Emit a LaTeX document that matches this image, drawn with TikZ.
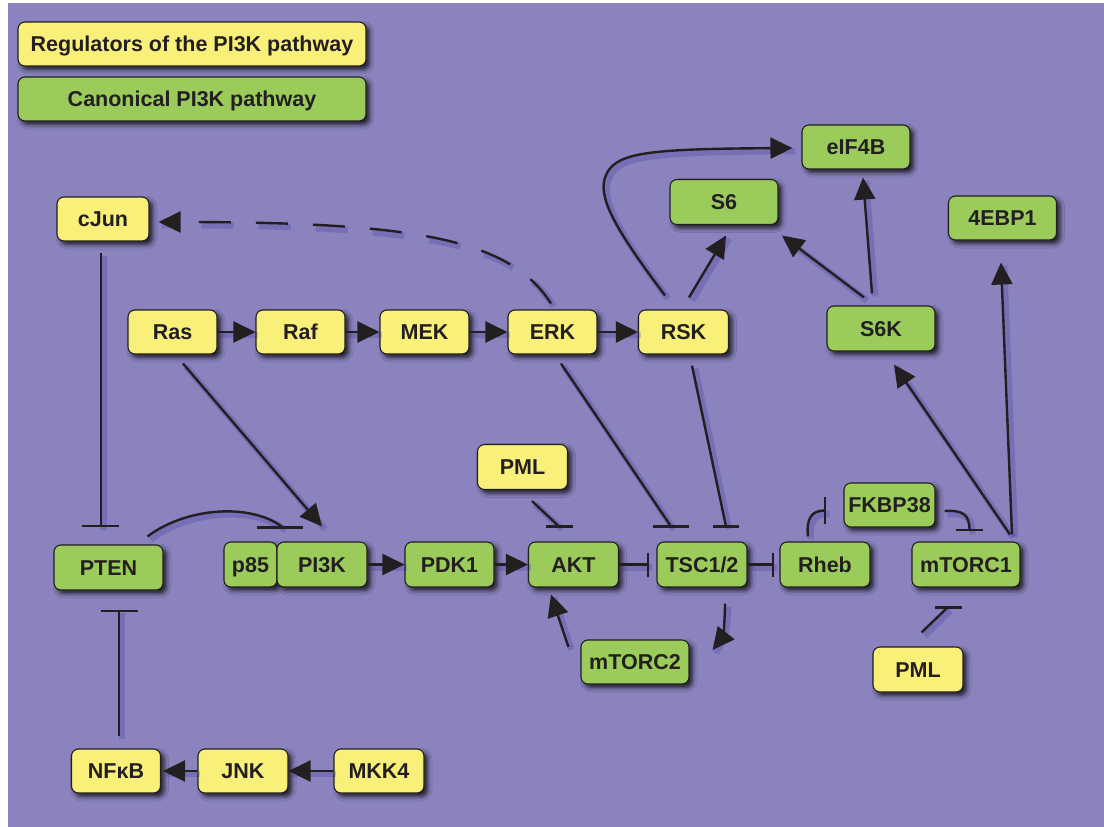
\documentclass[tikz,border=0pt]{standalone}
\usepackage{fontspec}
\setmainfont{Liberation Sans}
\usetikzlibrary{arrows.meta,calc,shadows.blur}
\definecolor{bg}{RGB}{138,131,190}
\definecolor{yel}{RGB}{249,240,122}
\definecolor{grn}{RGB}{155,204,91}
\definecolor{txt}{RGB}{35,31,32}
\definecolor{shd}{RGB}{50,40,150}
\tikzset{
  box/.style={draw=txt, line width=1.1pt, rounded corners=7pt, minimum height=44pt,
    inner sep=0pt, text=txt, font=\bfseries\fontsize{21.5}{24}\selectfont,
    text height=15pt, text depth=0pt,
    blur shadow={shadow xshift=3.5pt, shadow yshift=-3.5pt, shadow blur radius=4.5pt, shadow opacity=80}},
  ybox/.style={box, fill=yel},
  gbox/.style={box, fill=grn},
  lshadow/.style={preaction={draw=shd, draw opacity=0.22, line width=6.5pt, arrows=-,
    transform canvas={shift={(3pt,-3pt)}}}},
  dshadow/.style={preaction={draw=shd, draw opacity=0.22, line width=6.5pt, arrows=-,
    dash pattern=on 32pt off 25pt, transform canvas={shift={(3pt,-3pt)}}}},
  ln/.style={line width=2.4pt, draw=txt, line cap=butt},
  act/.style={ln, lshadow, -{Triangle[length=22pt,width=21pt]}},
  dact/.style={ln, dshadow, dash pattern=on 32pt off 25pt, -{Triangle[length=22pt,width=21pt]}},
  inh/.style={ln, lshadow, -{Bar[width=#1]}},
  inh/.default=27pt,
  plain/.style={ln, lshadow},
}
\newcommand\inhbar[2]{\draw[ln] ($(#1)+(-#2,0)$) -- ($(#1)+(#2,0)$);}
\begin{document}
\begin{tikzpicture}[x=1pt,y=-1pt]
\useasboundingbox (0,0) rectangle (1104,827);
\fill[white] (0,0) rectangle (1104,827);
\fill[bg] (8,3) rectangle (1104,827);

% legend
\node[ybox, minimum width=348pt] (leg1) at (192,44) {Regulators of the PI3K pathway};
\node[gbox, minimum width=348pt] (leg2) at (192,99) {Canonical PI3K pathway};

% nodes
\node[ybox, minimum width=92pt] (cJun) at (103,219) {cJun};
\node[ybox, minimum width=89pt] (Ras) at (172.5,332) {Ras};
\node[ybox, minimum width=89pt] (Raf) at (300.5,332) {Raf};
\node[ybox, minimum width=89pt] (MEK) at (424.5,332) {MEK};
\node[ybox, minimum width=89pt] (ERK) at (552.5,332) {ERK};
\node[ybox, minimum width=90pt] (RSK) at (683.5,332) {RSK};
\node[gbox, minimum width=108pt] (eIF4B) at (856,147) {eIF4B};
\node[gbox, minimum width=108pt, minimum height=45pt] (S6) at (724,202) {S6};
\node[gbox, minimum width=108pt] (EBP) at (1002.5,218) {4EBP1};
\node[gbox, minimum width=108pt, minimum height=45pt] (S6K) at (881,328.5) {S6K};
\node[gbox, minimum width=109pt, minimum height=45pt] (PTEN) at (108.5,567.5) {PTEN};
\node[gbox, minimum width=53pt, minimum height=45pt] (p85) at (250.5,564.5) {p85};
\node[gbox, minimum width=90pt, minimum height=45pt] (PI3K) at (322,564.5) {PI3K};
\node[gbox, minimum width=89pt, minimum height=45pt] (PDK1) at (449.5,564.5) {PDK1};
\node[gbox, minimum width=90pt, minimum height=45pt] (AKT) at (573.5,564.5) {AKT};
\node[gbox, minimum width=90pt, minimum height=45pt] (TSC) at (702,564.5) {TSC1/2};
\node[gbox, minimum width=90pt, minimum height=45pt] (Rheb) at (825,564.5) {Rheb};
\node[gbox, minimum width=108pt, minimum height=45pt] (mTORC1) at (966,564.5) {mTORC1};
\node[gbox, minimum width=91pt] (FKBP) at (889.5,505) {FKBP38};
\node[gbox, minimum width=108pt] (mTORC2) at (635,662) {mTORC2};
\node[ybox, minimum width=90pt, minimum height=45pt] (PMLa) at (522.5,467) {PML};
\node[ybox, minimum width=90pt, minimum height=45pt] (PMLb) at (918,669.5) {PML};
\node[ybox, minimum width=89pt] (NFkB) at (116,771) {NFκB};
\node[ybox, minimum width=90pt] (JNK) at (243,771) {JNK};
\node[ybox, minimum width=90pt] (MKK4) at (379,771) {MKK4};

% MAPK cascade
\draw[act] (Ras) -- (Raf);
\draw[act] (Raf) -- (MEK);
\draw[act] (MEK) -- (ERK);
\draw[act] (ERK) -- (RSK);
% canonical chain
\draw[act] (PI3K) -- (PDK1);
\draw[act] (PDK1) -- (AKT);
\draw[inh=24pt] (AKT) -- ($(TSC.west)+(-7,0)$);
\draw[inh=24pt] (TSC) -- ($(Rheb.west)+(-5.5,0)$);
% JNK
\draw[act] (JNK) -- ($(NFkB.east)+(2,0)$);
\draw[act] (MKK4) -- (JNK);
\draw[inh=37pt] ($(NFkB.north)+(3,-12)$) -- ($(PTEN.south)+(10.5,19)$);
\draw[inh=37pt] ($(cJun.south)+(-2.3,11)$) -- ($(PTEN.north)+(-7.8,-17)$);
% Ras -> PI3K
\draw[act] ($(Ras.south)+(10.5,9)$) -- ($(PI3K.north)+(0,-15)$);
% PTEN -| PI3K
\coordinate (pe) at ($(PI3K.north)+(-39,-14)$);
\draw[plain] ($(PTEN.north east)+(-16,-8)$) .. controls (185,508) and (250,502) .. (pe);
\inhbar{$(pe)+(-3,0)$}{23pt}
% PML -| AKT
\coordinate (pa) at ($(AKT.north)+(-14.5,-15)$);
\draw[plain] ($(PMLa.south)+(9.5,11)$) -- (pa);
\inhbar{pa}{13.5pt}
% ERK -| TSC
\coordinate (et) at ($(TSC.north)+(-31,-15)$);
\draw[plain] ($(ERK.south)+(8.5,9)$) -- (et);
\inhbar{et}{18pt}
% RSK -| TSC
\coordinate (rt) at ($(TSC.north)+(24,-15)$);
\draw[plain] ($(RSK.south)+(8.5,11)$) -- (rt);
\inhbar{rt}{13pt}
% TSC -> mTORC2 -> AKT
\draw[act] ($(TSC.south)+(23,16)$) .. controls (725,624) and (722,638) .. ($(mTORC2.east)+(23,-12)$);
\draw[act] ($(mTORC2.west)+(-12,-15)$) -- ($(AKT.south)+(-22.5,7)$);
% Rheb -| FKBP38 -| mTORC1
\draw[inh] ($(Rheb.north)+(-17,-5)$) .. controls (806,518) and (812,510.5) .. ($(FKBP.west)+(-17,5.5)$);
\draw[inh] ($(FKBP.east)+(9,6)$) .. controls (962,510) and (969.5,514) .. ($(mTORC1.north)+(3.5,-10)$);
% PML -| mTORC1
\coordinate (pm) at ($(mTORC1.south)+(-18.5,20)$);
\draw[plain] ($(PMLb.north)+(3.5,-14)$) -- (pm);
\inhbar{$(pm)+(1,0)$}{13.5pt}
% mTORC1 outputs
\draw[act] ($(mTORC1.north)+(44,-7)$) -- ($(S6K.south)+(13,13)$);
\draw[act] ($(mTORC1.north)+(46,-7)$) -- ($(EBP.south)+(-1.5,22)$);
\draw[act] ($(S6K.north)+(-9,-12)$) -- ($(eIF4B.south)+(7,8)$);
\draw[act] ($(S6K.north)+(-17,-8)$) -- ($(S6.south)+(58,10.5)$);
\draw[act] ($(RSK.north)+(5.5,-12)$) -- ($(S6.south)+(2,10.5)$);
\draw[act] ($(RSK.north)+(-18.5,-14)$) .. controls (612,225) and (597,195) .. (606,175)
   .. controls (616,152) and (650,149) .. ($(eIF4B.west)+(-9,1)$);
% ERK -> cJun (dashed)
\draw[dact] ($(ERK.north)+(-1.5,-6)$) .. controls (510,240) and (420,222) .. ($(cJun.east)+(9,3)$);
\end{tikzpicture}
\end{document}
